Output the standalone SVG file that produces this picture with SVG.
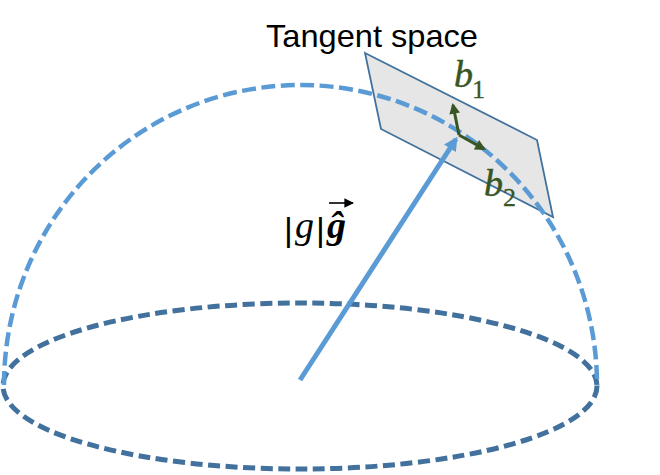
<svg xmlns="http://www.w3.org/2000/svg" width="660" height="475" viewBox="0 0 660 475">
<defs>
<style>
.dome{fill:none;stroke:#5B9BD5;stroke-width:4.5;stroke-dasharray:14 5.5}
.base{fill:none;stroke:#41719C;stroke-width:5;stroke-dasharray:12 5.5}
.plane{fill:#E6E6E6;stroke:#41719C;stroke-width:1.8}
.vec{stroke:#375623;stroke-width:3;fill:none}
.main{stroke:#5B9BD5;stroke-width:5;fill:none}
.math{font-family:"Liberation Serif","DejaVu Serif",serif;font-style:italic;fill:#375623;stroke:#375623;stroke-width:0.5}
.sub{font-family:"Liberation Serif","DejaVu Serif",serif;fill:#375623;stroke:#375623;stroke-width:0.3}
.lbl{font-family:"Liberation Sans",Arial,sans-serif;fill:#000}
</style>
<marker id="gh" viewBox="0 0 10 10" refX="8" refY="5" markerWidth="4" markerHeight="3.6" orient="auto" markerUnits="strokeWidth">
<path d="M0,0 L10,5 L0,10 z" fill="#375623"/>
</marker>
<marker id="bh" viewBox="0 0 10 10" refX="8" refY="5" markerWidth="2.8" markerHeight="2.8" orient="auto" markerUnits="strokeWidth">
<path d="M0,0 L10,5 L0,10 z" fill="#5B9BD5"/>
</marker>
<marker id="kh" viewBox="0 0 10 10" refX="9" refY="5" markerWidth="6" markerHeight="6" orient="auto" markerUnits="strokeWidth">
<path d="M0,0 L10,5 L0,10 z" fill="#000"/>
</marker>
</defs>
<g id="base-circle">
<ellipse class="base" cx="300" cy="386" rx="297" ry="83"/>
</g>
<g id="tangent-plane">
<polygon class="plane" points="365,53 537,140 553,217 381,129"/>
</g>
<g id="sphere">
<path class="dome" d="M4,385 A296.5,300 0 0 1 597,385"/>
</g>
<g id="connectors">
<line id="g-vector" class="main" x1="300" y1="380" x2="456" y2="139" marker-end="url(#bh)"/>
<line id="b1-vector" class="vec" x1="459" y1="135" x2="453" y2="105" marker-end="url(#gh)"/>
<line id="b2-vector" class="vec" x1="459" y1="135" x2="484" y2="149" marker-end="url(#gh)"/>
</g>
<g id="title">
<text class="lbl" x="266" y="47" font-size="32" textLength="212" lengthAdjust="spacingAndGlyphs">Tangent space</text>
</g>
<g id="b1-label">
<text class="math" x="454" y="87" font-size="38">b</text>
<text class="sub" x="472" y="98" font-size="26">1</text>
</g>
<g id="b2-label">
<text class="math" x="484" y="196" font-size="38">b</text>
<text class="sub" x="503" y="206" font-size="26">2</text>
</g>
<g id="g-label">
<text x="284" y="241" font-size="34" font-family="Liberation Sans, Arial, sans-serif">|</text>
<text x="295" y="238" font-size="38" font-family="Liberation Serif, serif" font-style="italic">g</text>
<text x="316" y="241" font-size="34" font-family="Liberation Sans, Arial, sans-serif">|</text>
<text x="327" y="238" font-size="38" font-family="Liberation Serif, serif" font-style="italic" font-weight="bold">ĝ</text>
<line x1="329" y1="203" x2="353" y2="203" stroke="#000" stroke-width="1.6" marker-end="url(#kh)"/>
</g>
</svg>
